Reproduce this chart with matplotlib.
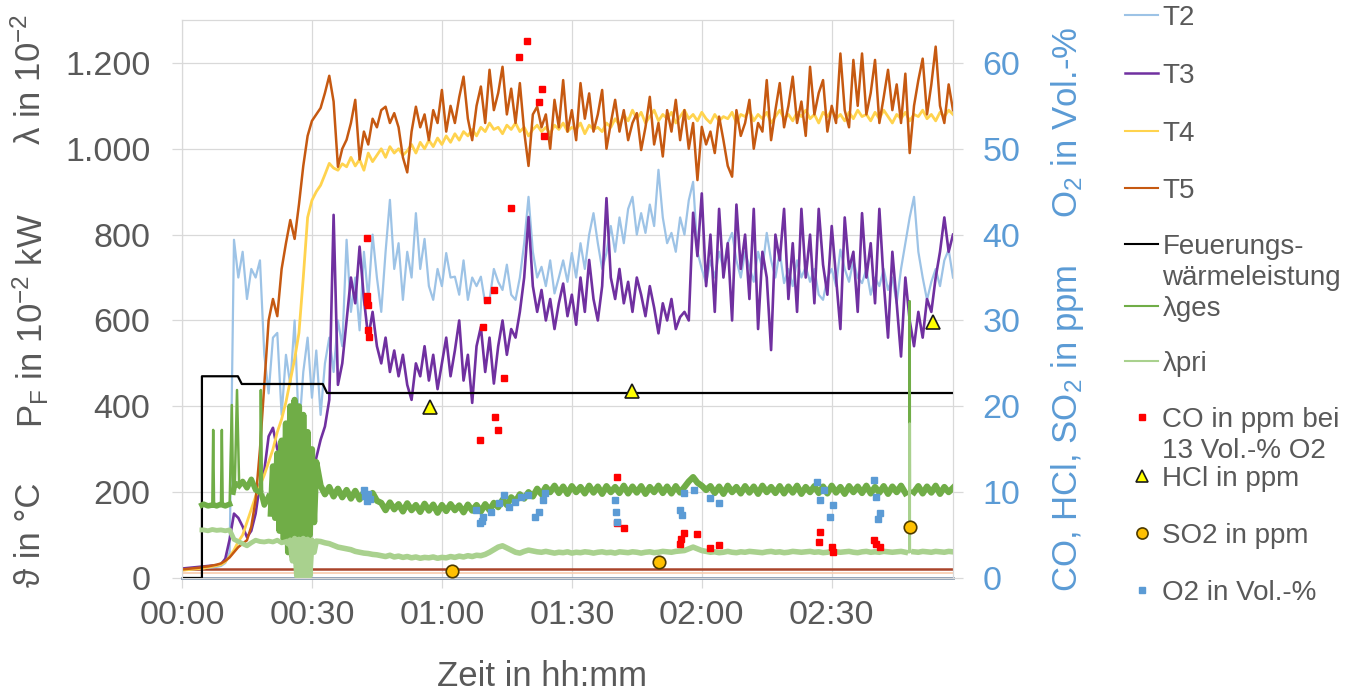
import matplotlib.pyplot as plt
import numpy as np
from matplotlib.lines import Line2D
from matplotlib.ticker import FuncFormatter

plt.rcParams['font.family'] = ['Liberation Sans', 'DejaVu Sans']
plt.rcParams['mathtext.fontset'] = 'custom'
plt.rcParams['mathtext.rm'] = 'Liberation Sans'
plt.rcParams['mathtext.it'] = 'Liberation Sans:italic'

# --- DATA (time in minutes after 00:00, 1 value per minute) ---
T2 = [18, 19, 20, 21, 22, 23, 24, 25, 26, 28, 35,
      60, 788, 700, 760, 650, 720, 700, 740, 520,
      430, 560, 571, 380, 520, 450, 600, 340, 480, 560, 420, 530, 380, 500,
      560, 480, 600, 540, 788, 620, 700, 577, 760, 650, 800, 700, 620, 760,
      881, 720, 780, 648, 760, 700, 850, 720, 790, 680, 648, 720, 680, 757, 700, 702,
      660, 740, 648, 700, 680, 702, 640, 648, 720, 690, 671, 730, 660, 648, 700, 780,
      888, 760, 700, 725, 680, 740, 663, 700, 740, 690, 757, 700, 780, 720, 800, 850,
      780, 720, 757, 820, 760, 840, 780, 860, 888, 800, 850, 804, 870, 820, 951, 840,
      780, 804, 760, 840, 800, 880, 923, 760, 720, 687, 740, 700, 760, 720, 780, 804,
      740, 700, 760, 725, 690, 760, 720, 804, 740, 700, 760, 687, 720, 680, 740, 700,
      725, 690, 720, 660, 648, 700, 720, 680, 765, 720, 690, 740, 700, 687, 720, 660,
      700, 680, 720, 671, 700, 640, 720, 780, 840, 888, 760, 700, 648, 690, 720, 680,
      740, 765, 700]
T3 = [22, 23, 24, 25, 26, 27, 28, 29, 30, 32,
      45, 90, 150, 140, 120, 95, 110,
      150, 220, 250, 330, 350, 300, 280, 250, 220, 205, 195, 200, 215, 232, 280, 322,
      353, 415, 846, 450,
      500, 600, 700, 640, 772, 650, 560, 620,
      540, 500, 560, 480, 530, 470, 520, 450, 415, 500, 470, 540, 460, 520, 440, 500,
      560, 470, 530, 600, 460, 520, 408, 540,
      585, 480, 560, 453, 540, 600, 520, 580, 560, 620, 700, 841,
      680, 620, 671, 600, 650, 580, 640, 686, 610, 660, 590, 700, 620, 741, 650, 600,
      680, 885,
      700, 650, 720, 640, 690, 620, 700, 660, 610, 680, 630, 570, 640, 600, 650, 580,
      608, 620, 600,
      851, 750, 896, 680, 800, 620, 860, 700, 780, 600, 870, 720, 800, 650, 860, 580,
      760, 700, 531, 800, 740, 860, 650, 780, 620, 860, 700, 800, 640, 860, 730, 660,
      820, 700, 580, 840, 720, 760, 620, 850, 700, 780, 640, 860, 690, 560, 760, 640,
      516, 700, 600, 540, 620, 560, 650, 620, 700, 760, 840, 760, 800]
T4 = [18, 19, 20, 21, 22, 23, 25, 27, 29, 31,
      38, 50, 65, 85, 100, 130, 160,
      190, 215, 240, 270, 300, 340, 370, 410, 460, 510, 571, 700, 840, 880, 900, 915,
      940, 966, 955, 950,
      965, 958, 980, 960, 975, 950, 990, 970, 985, 1000, 980, 1005, 990, 1000, 985, 995,
      1010, 990, 1015, 1000, 1020, 1005, 1025, 1010, 1030, 1015, 1035, 1020, 1040, 1030,
      1045, 1030, 1050, 1040, 1060, 1045, 1050, 1035, 1055, 1045, 1060, 1040, 1050, 1030,
      1045, 1055, 1040, 1050, 1035, 1055, 1045, 1060, 1040, 1050, 1045, 1060, 1035, 1055,
      1045, 1050, 1040, 1060, 1050,
      1070, 1055, 1080, 1065, 1090, 1070, 1085, 1060, 1075, 1090, 1065, 1080, 1070, 1085,
      1060, 1075, 1090, 1070, 1080, 1065, 1085, 1070, 1060, 1080, 1065, 1075,
      1070, 1085, 1060, 1080, 1075, 1090, 1065, 1080, 1070, 1085, 1060, 1075, 1090, 1070,
      1080, 1065, 1085, 1075, 1090, 1070, 1080, 1060, 1085, 1075, 1090, 1070, 1080, 1065,
      1085, 1070, 1090, 1075, 1080, 1065, 1085, 1070, 1090, 1075, 1060, 1080, 1070, 1085,
      1065, 1080, 1075, 1090, 1070, 1080, 1065, 1085, 1075, 1090, 1080]
T5 = [20, 21, 22, 23, 24, 26, 27, 29, 31, 34,
      40, 48, 60, 72, 80, 88, 120,
      182, 300, 450, 600, 650, 610, 720, 780, 834, 790, 870, 960, 1030, 1065, 1080, 1095,
      1130, 1170, 1110, 958,
      1000, 1021, 1060, 1114, 975, 1040, 1010, 1070, 1050, 1090, 1098, 1060, 1083, 1050,
      980, 945, 1040, 1098, 1050, 1080, 1020, 1090, 1060, 1137, 1040, 1100, 1060, 1120,
      1168, 1070, 1020, 1100, 1145, 1060, 1184, 1090, 1130, 1191, 1080, 1140, 1060, 1153,
      1040, 960, 1080, 1098, 1050, 1080, 1000, 1114, 1050, 1160, 1040, 1090, 1020, 1153,
      1070, 1129, 1040, 1080, 1137, 1000, 1060, 1114, 1040, 1090, 1020, 1060, 1083, 997,
      1050, 1121, 1010, 1060, 982, 1090, 1040, 1114, 1020, 1090, 1000, 1060, 927, 1051,
      1010, 1040, 990, 1075, 1020, 960, 935, 1090, 1030, 1060, 1114, 1000, 1060, 1040,
      1160, 1020, 1090, 1153, 1050, 1100, 1168, 1060, 1110, 1030, 1191, 1080, 1130, 1160,
      1040, 1100, 1060, 1222, 1090, 1050, 1207, 1100, 1222, 1080, 1130, 1207, 1060, 1120,
      1184, 1090, 1150, 1060, 1175, 990, 1100, 1160, 1210, 1080, 1150, 1238, 1100, 1060,
      1150, 1090]

# Feuerungswaermeleistung (step profile)
pf_t = [0, 4.6, 4.6, 12.9, 13.8, 32.5, 33.5, 178]
pf_val = [0, 0, 470, 470, 452, 452, 431, 431]

# flat base lines without legend entry
base_t = [0, 178]
base_brown = [22, 22]
base_orange = [12, 12]
base_grey = [0, 0]

# lambda_ges: early part with spikes, oscillation 00:20-00:31, then one value per minute
lges_early_t = [4.6, 5, 6, 7, 7.2, 7.4, 8, 9, 9.2, 9.4, 10, 11, 11.5, 11.8, 12.2, 12.7,
                13.2, 14, 15, 16, 17, 18, 18.2, 18.5, 19, 20]
lges_early = [170, 172, 168, 170, 345, 170, 168, 172, 345, 170, 168, 172, 403, 200, 220, 438,
              215, 225, 210, 230, 205, 200, 438, 190, 170, 190]
lges_blob = [150, 260, 140, 290, 110, 320, 90, 360, 60, 400, 50, 415, 55, 400, 60, 380,
             80, 340, 100, 300, 130, 270]            # 00:20:30 .. 00:31, every 30 s
lges_main = [215, 195, 212, 190, 208, 188, 205, 185, 203, 183, 200, 182, 198, 180,
             175, 158, 176, 160, 172, 155, 174, 158, 170, 154, 173, 157, 171, 152, 170, 156,
             172, 158, 169, 153, 171, 157, 170, 155, 172, 158, 175,
             165, 182, 170, 188, 178, 195, 185, 200, 190, 208, 195, 212, 200,
             215, 198, 213, 196, 214, 200, 212, 197, 215, 199, 213, 196, 214, 200, 212, 198,
             215, 197, 213, 199, 214, 196, 212, 200, 215, 198, 213, 197, 214, 199, 212,
             225, 235, 222, 215, 205,
             214, 198, 213, 196, 215, 200, 212, 197, 214, 199, 213, 196, 215, 200, 212, 198,
             214, 197, 213, 199, 215, 196, 212, 200, 214, 198, 213, 197, 215, 199, 212, 196,
             214, 200, 213, 198, 215, 197, 212, 199, 214, 196, 213, 200, 215, 198]   # 00:32 .. 02:47
lges_spike_t = [167.95, 168.0, 168.05]
lges_spike = [200, 645, 205]
lges_end = [200, 214, 197, 213, 199, 215, 196, 212, 200, 210]                      # 02:49 .. 02:58

# lambda_pri
lpri_early_t = [4.6, 5, 6, 7, 8, 9, 10, 11, 12, 13, 14, 15, 16, 17, 18, 19, 20, 21, 22, 23, 24]
lpri_early = [112, 112, 110, 113, 111, 112, 110, 112, 90, 85, 80, 75, 82, 88, 85, 84,
              86, 84, 88, 82, 85]
lpri_blob = [80, 88, 40, 92, 5, 90, 0, 92, 0, 90, 5, 88, 60, 86]                   # 00:24:30 .. 00:31
lpri_main = [85, 82, 80, 76, 72, 70, 68, 66, 62, 60, 58, 57, 55, 54,
             52, 50, 53, 49, 51, 48, 50, 47, 49, 46, 48, 47, 49, 46, 48, 47, 50, 48, 51, 49,
             52, 50, 53, 52, 55,
             60, 66, 72, 75, 70, 65, 60, 58, 62, 65, 63, 61, 60, 62, 60,
             58, 60, 59, 61, 58, 60, 59, 61, 60, 58, 60, 61, 59, 60, 58, 61, 60, 59, 61, 60,
             58, 60, 61, 59, 60, 62, 61, 60, 62, 63, 64,
             68, 72, 68, 64, 62,
             60, 61, 59, 60, 62, 60, 59, 61, 60, 62, 61, 60, 59, 61, 62, 60, 61, 59, 60, 62,
             61, 60, 61, 62, 60, 61, 59, 60, 62, 61, 60, 61, 62, 60, 59, 61, 62, 60, 61, 60,
             62, 61, 60, 61, 62, 60]                                               # 00:32 .. 02:47
lpri_spike_t = [167.95, 168.0, 168.05]
lpri_spike = [60, 360, 62]
lpri_end = [61, 60, 62, 61, 60, 62, 61, 60, 62, 61]

# point measurements (right axis)
co_t = [42.6, 42.6, 42.8, 42.9, 43.0, 43.1,
        68.8, 69.5, 70.3, 72.0, 72.2, 73.0, 74.3, 76.0, 77.7, 79.7, 82.5, 83.1, 83.5,
        100.4, 100.4, 102.1,
        114.9, 115.2, 115.8, 118.8, 121.8, 123.9,
        147.0, 147.4, 150.0, 150.4, 159.8, 160.3, 161.1]
co_val = [39.6, 32.8, 32.2, 31.8, 28.9, 28.1,
          16.1, 29.2, 32.4, 33.6, 18.7, 17.2, 23.3, 43.1, 60.7, 62.6, 55.4, 57.0, 51.5,
          11.8, 6.4, 5.8,
          4.0, 4.6, 5.2, 5.1, 3.5, 3.8,
          4.2, 5.4, 3.6, 3.0, 4.4, 4.0, 3.6]
hcl_t = [57.2, 103.8, 173.3]
hcl_val = [19.9, 21.8, 29.8]
so2_t = [62.4, 110.2, 168.1]
so2_val = [0.85, 1.9, 5.9]
o2_t = [42.0, 42.3, 42.6, 43.0, 43.4,
        67.9, 68.8, 69.2, 69.6, 71.3, 73.1, 74.3, 75.6, 76.9, 78.2, 79.9, 81.6, 82.5, 83.3, 83.7,
        100.0, 100.2, 100.4,
        114.9, 115.4, 115.8, 118.3, 121.8, 123.9,
        146.6, 147.4, 148.3, 149.5, 150.4,
        159.8, 160.2, 160.7, 161.1]
o2_val = [10.3, 9.6, 9.0, 9.8, 9.2,
          7.9, 6.4, 6.6, 7.1, 7.7, 8.7, 9.7, 8.3, 8.9, 9.4, 9.7, 7.1, 7.7, 9.1, 9.9,
          9.1, 7.7, 6.5,
          7.9, 7.3, 9.9, 10.3, 9.3, 8.7,
          11.2, 9.1, 10.3, 7.1, 8.5,
          11.4, 9.4, 6.9, 7.6]


def minutes(start, step, vals):
    return start + step * np.arange(len(vals))


lges_t = np.concatenate([lges_early_t, minutes(20.5, 0.5, lges_blob), minutes(32, 1, lges_main),
                         lges_spike_t, minutes(169, 1, lges_end)])
lges_v = np.concatenate([lges_early, lges_blob, lges_main, lges_spike, lges_end])
lpri_t = np.concatenate([lpri_early_t, minutes(24.5, 0.5, lpri_blob), minutes(32, 1, lpri_main),
                         lpri_spike_t, minutes(169, 1, lpri_end)])
lpri_v = np.concatenate([lpri_early, lpri_blob, lpri_main, lpri_spike, lpri_end])

# --- STYLE ---
c_T2, c_T3, c_T4, c_T5 = '#9dc3e6', '#7030a0', '#ffd34e', '#c65911'
c_ges, c_pri = '#70ad47', '#a9d18e'
grey_txt, blue_txt, grid_c = '#595959', '#5b9bd5', '#d9d9d9'

W, H = 1345, 693
fig = plt.figure(figsize=(W / 100, H / 100), dpi=100)
ax = fig.add_axes([182 / W, 1 - 578 / H, (953 - 182) / W, (578 - 20) / H])

ax.plot(base_t, base_grey, color='#8497b0', lw=2.0, zorder=2, clip_on=False)
ax.plot(base_t, base_orange, color='#f8cbad', lw=1.2, zorder=2)
ax.plot(base_t, base_brown, color='#a9442a', lw=1.8, zorder=2)
ax.plot(minutes(0, 1, T2), T2, color=c_T2, lw=1.6, zorder=3)
ax.plot(minutes(0, 1, T3), T3, color=c_T3, lw=1.9, zorder=4)
ax.plot(minutes(0, 1, T4), T4, color=c_T4, lw=2.0, zorder=5)
ax.plot(minutes(0, 1, T5), T5, color=c_T5, lw=1.8, zorder=6)
ax.plot(pf_t, pf_val, color='black', lw=1.6, zorder=7)

# thin trace for spikes, thick band where the signal is noisy
ax.plot(lges_t, lges_v, color=c_ges, lw=1.8, zorder=8)
early_band = np.where(np.array(lges_early) < 300, lges_early, np.nan)
ax.plot(lges_early_t, early_band, color=c_ges, lw=4.0, zorder=8, solid_joinstyle='round')
ax.plot(np.concatenate([minutes(20.5, 0.5, lges_blob), minutes(32, 1, lges_main)]),
        np.concatenate([lges_blob, lges_main]), color=c_ges, lw=4.5, zorder=8,
        solid_joinstyle='round')
ax.plot(minutes(169, 1, lges_end), lges_end, color=c_ges, lw=4.5, zorder=8, solid_joinstyle='round')
ax.plot(lpri_t, lpri_v, color=c_pri, lw=1.8, zorder=9)
ax.plot(np.concatenate([minutes(24.5, 0.5, lpri_blob), minutes(32, 1, lpri_main)]),
        np.concatenate([lpri_blob, lpri_main]), color=c_pri, lw=4.0, zorder=9,
        solid_joinstyle='round')
ax.plot(lpri_early_t, lpri_early, color=c_pri, lw=3.5, zorder=9, solid_joinstyle='round')
ax.plot(minutes(169, 1, lpri_end), lpri_end, color=c_pri, lw=4.0, zorder=9, solid_joinstyle='round')

ax.set_xlim(0, 178)
ax.set_ylim(0, 1300)
ax.set_xticks(np.arange(0, 151, 30))
ax.set_yticks(np.arange(0, 1201, 200))
ax.xaxis.set_major_formatter(FuncFormatter(lambda v, _: f"{int(v) // 60:02d}:{int(v) % 60:02d}"))
ax.yaxis.set_major_formatter(FuncFormatter(lambda v, _: f"{int(v):,}".replace(',', '.')))
ax.grid(True, color=grid_c, lw=0.9)
ax.set_axisbelow(True)
ax.tick_params(axis='both', length=7.2, width=0.9, color=grid_c, labelsize=24.5,
               labelcolor=grey_txt)
ax.tick_params(axis='x', pad=9)
ax.tick_params(axis='y', pad=15.5)

ax2 = ax.twinx()
ax2.plot(co_t, co_val, ls='none', marker='s', ms=5, color='#ff0000', zorder=5)
ax2.plot(hcl_t, hcl_val, ls='none', marker='^', ms=10, mfc='#ffff00', mec='#1a1a1a', mew=1.2, zorder=6)
ax2.plot(so2_t, so2_val, ls='none', marker='o', ms=9, mfc='#ffc000', mec='#4d3b00', mew=1.2, zorder=6)
ax2.plot(o2_t, o2_val, ls='none', marker='s', ms=4.5, color=blue_txt, zorder=7)
ax2.set_ylim(0, 65)
ax2.set_yticks(np.arange(0, 61, 10))
ax2.tick_params(axis='y', length=7.2, width=0.9, color=grid_c, labelsize=24.5,
                labelcolor=blue_txt, pad=14)
for a in (ax, ax2):
    for sp in a.spines.values():
        sp.set_color(grid_c)

# axis titles
fig.text(31 / W, 1 - 79 / H, r'λ in 10$^{\mathregular{-2}}$', rotation=90, ha='center', va='center',
         fontsize=25, color=grey_txt)
fig.text(31 / W, 1 - 320 / H, r'P$_{\mathregular{F}}$ in 10$^{\mathregular{-2}}$ kW', rotation=90,
         ha='center', va='center', fontsize=25, color=grey_txt)
fig.text(31 / W, 1 - 535 / H, 'ϑ in °C', rotation=90, ha='center', va='center',
         fontsize=25, color=grey_txt)
fig.text(1067 / W, 1 - 122 / H, r'O$_{\mathregular{2}}$ in Vol.-%', rotation=90, ha='center',
         va='center', fontsize=25, color=blue_txt)
fig.text(1067 / W, 1 - 428 / H, r'CO, HCl, SO$_{\mathregular{2}}$ in ppm', rotation=90, ha='center',
         va='center', fontsize=25, color=blue_txt)
fig.text(542 / W, 1 - 676 / H, 'Zeit in hh:mm', ha='center', va='center', fontsize=25, color=grey_txt)

# legend, one entry per row like the original
entries = [
    (Line2D([], [], color=c_T2, lw=1.5), 'T2', 18),
    (Line2D([], [], color=c_T3, lw=1.8), 'T3', 76),
    (Line2D([], [], color=c_T4, lw=1.5), 'T4', 134),
    (Line2D([], [], color=c_T5, lw=1.5), 'T5', 191),
    (Line2D([], [], color='black', lw=1.5), 'Feuerungs-', 247),
    (Line2D([], [], color=c_ges, lw=1.5), 'λges', 309),
    (Line2D([], [], color=c_pri, lw=1.5), 'λpri', 364),
    (Line2D([], [], ls='none', marker='s', ms=5, color='#ff0000'), 'CO in ppm bei', 420),
    (Line2D([], [], ls='none', marker='^', ms=9, mfc='#ffff00', mec='#1a1a1a', mew=1.2), 'HCl in ppm', 479),
    (Line2D([], [], ls='none', marker='o', ms=8, mfc='#ffc000', mec='#4d3b00', mew=1.2), 'SO2 in ppm', 536),
    (Line2D([], [], ls='none', marker='s', ms=4.5, color=blue_txt), 'O2 in Vol.-%', 593),
]
for handle, label, ypx in entries:
    fig.legend([handle], [label], loc='center left', bbox_to_anchor=(1125 / W, 1 - ypx / H),
               frameon=False, fontsize=20, handlelength=1.2, handletextpad=0.15,
               borderpad=0, borderaxespad=0, labelcolor=grey_txt)
fig.text(1162 / W, 1 - 278 / H, 'wärmeleistung', fontsize=20, color=grey_txt, va='center')
fig.text(1162 / W, 1 - 451 / H, '13 Vol.-% O2', fontsize=20, color=grey_txt, va='center')

fig.savefig('out.png', dpi=100)
